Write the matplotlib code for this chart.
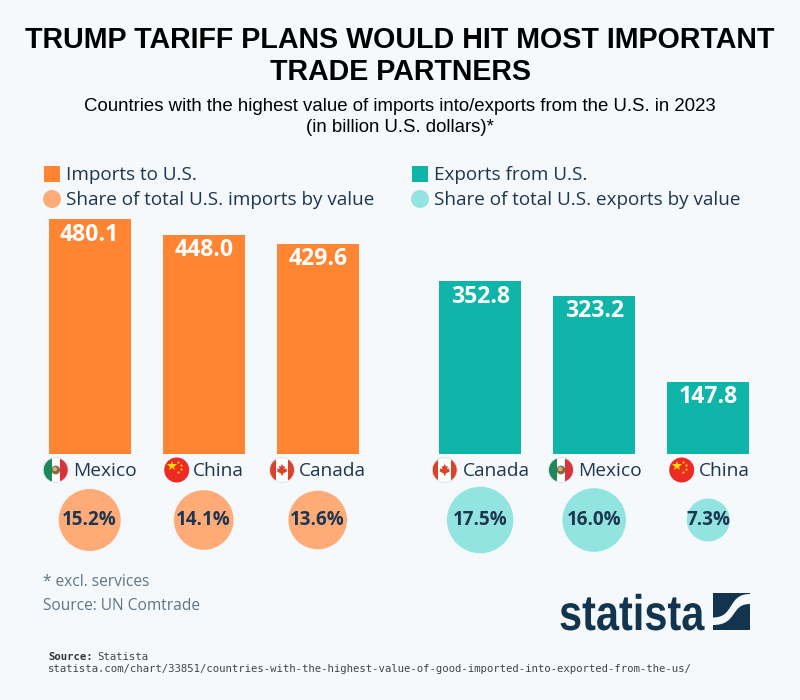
import numpy as np
import matplotlib
matplotlib.use('Agg')
import matplotlib.pyplot as plt
from matplotlib.patches import Circle, Rectangle, PathPatch, Polygon
from matplotlib.path import Path
from matplotlib.patheffects import AbstractPathEffect
from matplotlib.transforms import Affine2D

imp_countries = ['Mexico', 'China', 'Canada']
imp_values = [480.1, 448.0, 429.6]
imp_shares = [15.2, 14.1, 13.6]
exp_countries = ['Canada', 'Mexico', 'China']
exp_values = [352.8, 323.2, 147.8]
exp_shares = [17.5, 16.0, 7.3]

BG = '#f5f9fc'
ORANGE = '#ff8533'
ORANGE_L = '#ffab78'
TEAL = '#0fb5a8'
TEAL_L = '#91e4df'
DARK = '#1d3650'
GREY = '#5f7486'
NAVY = '#12344f'
W, H = 800, 700
PX_PER_B = 235 / 480.1

fig = plt.figure(figsize=(8, 7), dpi=100, facecolor=BG)

# overlay in pixel coords, for text and decoration
ov = fig.add_axes([0, 0, 1, 1], zorder=3)
ov.set_xlim(0, W)
ov.set_ylim(H, 0)
ov.axis('off')


def px_axes(x0, x1, y0, y1):
    a = fig.add_axes([x0 / W, 1 - y1 / H, (x1 - x0) / W, (y1 - y0) / H], zorder=2)
    a.patch.set_alpha(0)
    a.axis('off')
    return a


def draw_panel(ax, values, shares, col, col_l):
    x = np.arange(len(values))
    ax.bar(x, values, width=82 / 114, color=col)
    ax.set_xlim(-0.5, 2.5)
    ax.set_ylim(0, 235 / PX_PER_B)
    tr = ax.get_xaxis_transform()
    # bubble area follows the share
    sizes = [(2 * 7.95 * np.sqrt(s) * 0.72) ** 2 for s in shares]
    ax.scatter(x, [-66 / 235] * len(x), s=sizes, color=col_l, linewidths=0, transform=tr, clip_on=False)
    for i, (v, s) in enumerate(zip(values, shares)):
        ax.annotate(f'{v:.1f}', (i, v), xytext=(0, -11.2), textcoords='offset points', ha='center', va='center',
                    color='white', fontsize=16.6, fontweight='bold', family='Open Sans')
        ax.text(i, -66 / 235, f'{s:.1f}%', transform=tr, ha='center', va='center', color=DARK,
                fontsize=13.5, fontweight='bold', family='Open Sans', clip_on=False)


ax_imp = px_axes(32.7, 374.7, 219, 454)
ax_exp = px_axes(423.2, 765.2, 219, 454)
draw_panel(ax_imp, imp_values, imp_shares, ORANGE, ORANGE_L)
draw_panel(ax_exp, exp_values, exp_shares, TEAL, TEAL_L)


def flag(name, cx, cy, r=12.5):
    clip = Circle((cx, cy), r, transform=ov.transData)
    if name == 'China':
        ov.add_patch(Circle((cx, cy), r, color='#ee2a24', lw=0))
        ov.plot([cx - 5], [cy - 4], marker='*', ms=7.5, color='#ffdd00', mew=0)
        for dx, dy in [(1, -8), (4, -5), (4, -1), (1, 2)]:
            ov.plot([cx + dx], [cy + dy], marker='*', ms=2.6, color='#ffdd00', mew=0)
        return
    ov.add_patch(Circle((cx, cy), r, color='white', lw=0))
    if name == 'Mexico':
        left, right = '#1b8a5a', '#d8323c'
        w = r * 0.68
    else:
        left, right = '#d9432a', '#d9432a'
        w = r * 0.5
    for x0, c in [(cx - r, left), (cx + r - w, right)]:
        p = Rectangle((x0, cy - r), w, 2 * r, color=c, lw=0)
        ov.add_patch(p)
        p.set_clip_path(clip)
    if name == 'Mexico':
        ov.add_patch(Circle((cx, cy), 4.4, color='#8a6a3f', lw=0))
        ov.add_patch(Circle((cx - 0.8, cy - 1), 2.2, color='#c9b48c', lw=0))
    else:
        leaf = [(0, -6), (1.4, -3.4), (3, -4), (2.4, -0.8), (5, -1.6), (4.4, 0.6), (5.4, 1.2), (1, 3.6), (0.5, 5.6),
                (-0.5, 5.6), (-1, 3.6), (-5.4, 1.2), (-4.4, 0.6), (-5, -1.6), (-2.4, -0.8), (-3, -4), (-1.4, -3.4)]
        ov.add_patch(Polygon([(cx + a, cy + b) for a, b in leaf], color='#d9432a', lw=0))
    ov.add_patch(Circle((cx, cy), r, fill=False, ec='#dfe3e8', lw=0.7))


flag_x = [55.7, 176.7, 282, 444.7, 561, 681.7]
label_x = [73.5, 193, 299, 463, 578.5, 699]
for fx, lx, name in zip(flag_x, label_x, imp_countries + exp_countries):
    flag(name, fx, 470)
    ov.text(lx, 471.5, name, ha='left', va='center', color=DARK, fontsize=13.8, family='Open Sans')

# title
ov.text(400, 40.5, 'TRUMP TARIFF PLANS WOULD HIT MOST IMPORTANT', ha='center', va='center', fontsize=20.6,
        fontweight='bold', family='Liberation Sans', color='black')
ov.text(400, 71.5, 'TRADE PARTNERS', ha='center', va='center', fontsize=20.6, fontweight='bold',
        family='Liberation Sans', color='black')
ov.text(400, 106.5, 'Countries with the highest value of imports into/exports from the U.S. in 2023', ha='center',
        va='center', fontsize=13.4, family='Liberation Sans', color='black')
ov.text(400, 128, '(in billion U.S. dollars)*', ha='center', va='center', fontsize=13.4, family='Liberation Sans',
        color='black')

# legends
ov.add_patch(Rectangle((44, 166), 16, 16, color=ORANGE, lw=0))
ov.add_patch(Circle((52, 199), 9, color=ORANGE_L, lw=0))
ov.add_patch(Rectangle((412, 166), 16, 16, color=TEAL, lw=0))
ov.add_patch(Circle((420, 199), 9, color=TEAL_L, lw=0))
for x, y, s in [(66, 175.5, 'Imports to U.S.'), (66, 200, 'Share of total U.S. imports by value'),
                (434, 175.5, 'Exports from U.S.'), (434, 200, 'Share of total U.S. exports by value')]:
    ov.text(x, y, s, ha='left', va='center', color=DARK, fontsize=13.55, family='Open Sans')

# notes
ov.text(43, 582, '* excl. services', ha='left', va='center', color=GREY, fontsize=11.2, family='Open Sans')
ov.text(43, 606, 'Source: UN Comtrade', ha='left', va='center', color=GREY, fontsize=11.2, family='Open Sans')


# squeezes the word sideways, no narrow bold font is installed
class Squeeze(AbstractPathEffect):
    def __init__(self, sx, x0):
        super().__init__()
        self.sx = sx
        self.x0 = x0

    def draw_path(self, renderer, gc, tpath, affine, rgbFace=None):
        t = affine + Affine2D().translate(-self.x0, 0).scale(self.sx, 1).translate(self.x0, 0)
        renderer.draw_path(gc, tpath, t, rgbFace)


# logo
ov.text(559, 630, 'statista', ha='left', va='baseline', color=NAVY, fontsize=36, fontweight='bold',
        family='Liberation Sans', path_effects=[Squeeze(0.83, 559)])
ov.add_patch(Rectangle((713, 593), 37, 37, color=NAVY, lw=0))
verts = [(713, 617.5), (735, 617.5), (727, 594), (750, 594), (750, 604), (730, 604), (738, 625), (713, 625), (713, 617.5)]
codes = [Path.MOVETO, Path.CURVE4, Path.CURVE4, Path.CURVE4, Path.LINETO, Path.CURVE4, Path.CURVE4, Path.CURVE4, Path.CLOSEPOLY]
ov.add_patch(PathPatch(Path(verts, codes), color=BG, lw=0))

# source
ov.text(48, 657, 'Source:', ha='left', va='center', fontsize=7.66, fontweight='bold', family='DejaVu Sans Mono', color='#333333')
ov.text(97.5, 657, 'Statista', ha='left', va='center', fontsize=7.66, family='DejaVu Sans Mono', color='#444444')
ov.text(48, 669, 'statista.com/chart/33851/countries-with-the-highest-value-of-good-imported-into-exported-from-the-us/',
        ha='left', va='center', fontsize=7.66, family='DejaVu Sans Mono', color='#444444')

fig.savefig('out.png', dpi=100, facecolor=BG)
